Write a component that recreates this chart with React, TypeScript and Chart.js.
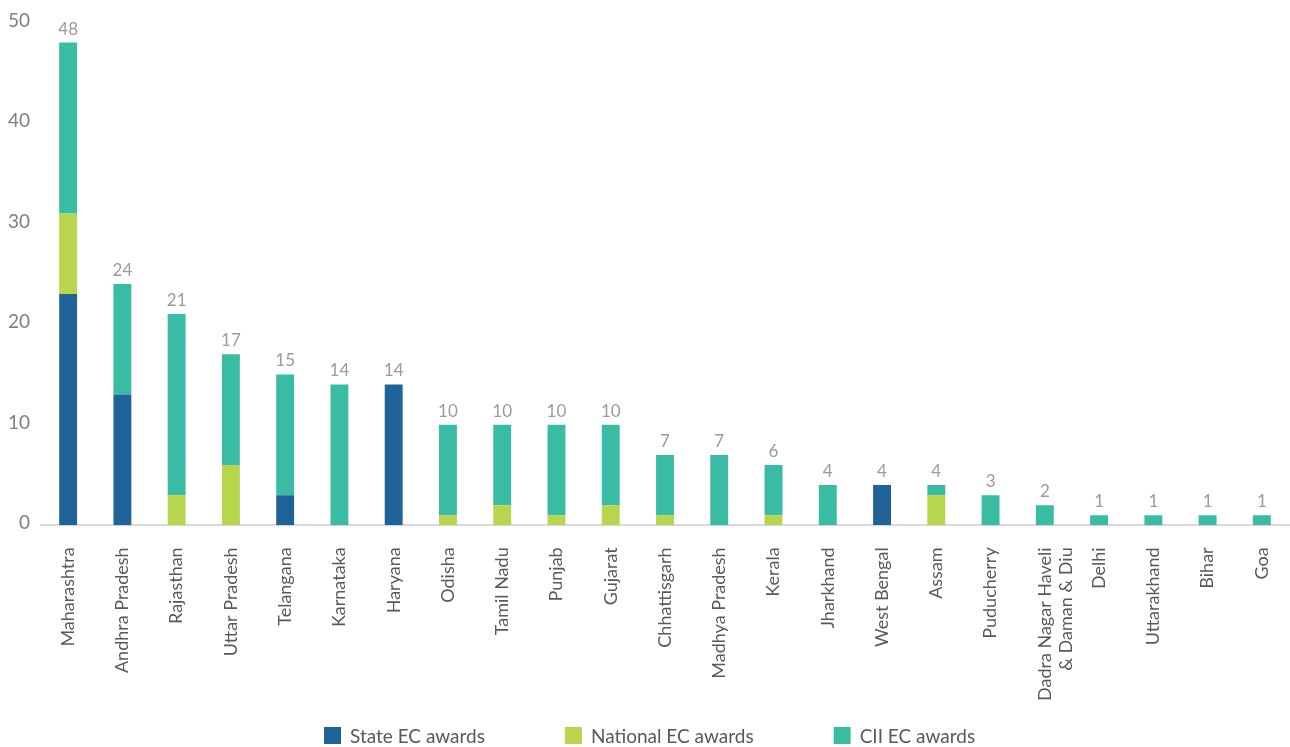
import React, { useEffect, useRef } from "react";
import { Chart, registerables } from "chart.js";

Chart.register(...registerables);

const categories: (string | string[])[] = [
  "Maharashtra", "Andhra Pradesh", "Rajasthan", "Uttar Pradesh", "Telangana",
  "Karnataka", "Haryana", "Odisha", "Tamil Nadu", "Punjab", "Gujarat",
  "Chhattisgarh", "Madhya Pradesh", "Kerala", "Jharkhand", "West Bengal",
  "Assam", "Puducherry", ["Dadra Nagar Haveli", "& Daman & Diu"], "Delhi",
  "Uttarakhand", "Bihar", "Goa",
];

const seriesNames = ["State EC awards", "National EC awards", "CII EC awards"];
const seriesColors = ["#1F6399", "#B8D54E", "#3ABBA3"];

const stateAwards = [23, 13, 0, 0, 3, 0, 14, 0, 0, 0, 0, 0, 0, 0, 0, 4, 0, 0, 0, 0, 0, 0, 0];
const nationalAwards = [8, 0, 3, 6, 0, 0, 0, 1, 2, 1, 2, 1, 0, 1, 0, 0, 3, 0, 0, 0, 0, 0, 0];
const ciiAwards = [17, 11, 18, 11, 12, 14, 0, 9, 8, 9, 8, 6, 7, 5, 4, 0, 1, 3, 2, 1, 1, 1, 1];

const yTicks = [0, 10, 20, 30, 40, 50];

const FONT = "Lato, 'Open Sans', sans-serif";

const totalsPlugin = {
  id: "totals",
  afterDatasetsDraw(chart: any) {
    const { ctx, scales } = chart;
    const y = scales.y;
    const x = scales.x;
    ctx.save();
    ctx.font = `17px ${FONT}`;
    ctx.fillStyle = "#9b9b9b";
    ctx.textAlign = "center";
    ctx.textBaseline = "bottom";
    categories.forEach((_, i) => {
      const total = stateAwards[i] + nationalAwards[i] + ciiAwards[i];
      const px = x.getPixelForValue(i);
      const py = y.getPixelForValue(total);
      ctx.fillText(String(total), px, py - 5);
    });
    ctx.restore();
  },
};

const legendPlugin = {
  id: "customLegend",
  afterDraw(chart: any) {
    const { ctx } = chart;
    ctx.save();
    ctx.font = `19px ${FONT}`;
    ctx.textBaseline = "middle";
    ctx.textAlign = "left";
    let x = 324;
    const cy = 735.5;
    seriesNames.forEach((name, i) => {
      ctx.fillStyle = seriesColors[i];
      ctx.fillRect(x, cy - 8.5, 17, 17);
      ctx.fillStyle = "#595959";
      ctx.fillText(name, x + 26, cy + 1);
      x += 26 + ctx.measureText(name).width + 80;
    });
    ctx.restore();
  },
};

export default function App() {
  const ref = useRef<HTMLCanvasElement | null>(null);
  useEffect(() => {
    document.body.style.margin = "0";
    if (!ref.current) return;
    const chart = new Chart(ref.current, {
      type: "bar",
      data: {
        labels: categories,
        datasets: [
          { label: seriesNames[0], data: stateAwards, backgroundColor: seriesColors[0] },
          { label: seriesNames[1], data: nationalAwards, backgroundColor: seriesColors[1] },
          { label: seriesNames[2], data: ciiAwards, backgroundColor: seriesColors[2] },
        ],
      },
      options: {
        animation: false,
        responsive: true,
        maintainAspectRatio: false,
        datasets: { bar: { barPercentage: 0.66, categoryPercentage: 0.5 } },
        layout: { padding: { top: 2.5, right: 1, left: 0, bottom: 32 } },
        scales: {
          x: {
            stacked: true,
            afterFit: (scale: any) => {
              scale.paddingLeft = 0;
              scale.paddingRight = 0;
            },
            grid: { display: false },
            border: { display: true, color: "#d9d9d9", width: 2 },
            ticks: {
              autoSkip: false,
              maxRotation: 90,
              minRotation: 90,
              padding: 14,
              color: "#595959",
              font: { family: FONT, size: 18 },
            },
          },
          y: {
            stacked: true,
            min: 0,
            max: 50,
            afterBuildTicks: (axis: any) => {
              axis.ticks = yTicks.map((v) => ({ value: v }));
            },
            afterFit: (scale: any) => {
              scale.width = 41;
            },
            grid: { display: false, drawTicks: false },
            border: { display: false },
            ticks: {
              padding: 11,
              labelOffset: -2,
              color: "#808080",
              font: { family: FONT, size: 19 },
            },
          },
        },
        plugins: {
          legend: { display: false },
          tooltip: { enabled: false },
        },
      },
      plugins: [totalsPlugin, legendPlugin],
    });
    return () => chart.destroy();
  }, []);
  return (
    <div style={{ position: "absolute", left: 0, top: 0, width: 1290, height: 747 }}>
      <canvas ref={ref} />
    </div>
  );
}
